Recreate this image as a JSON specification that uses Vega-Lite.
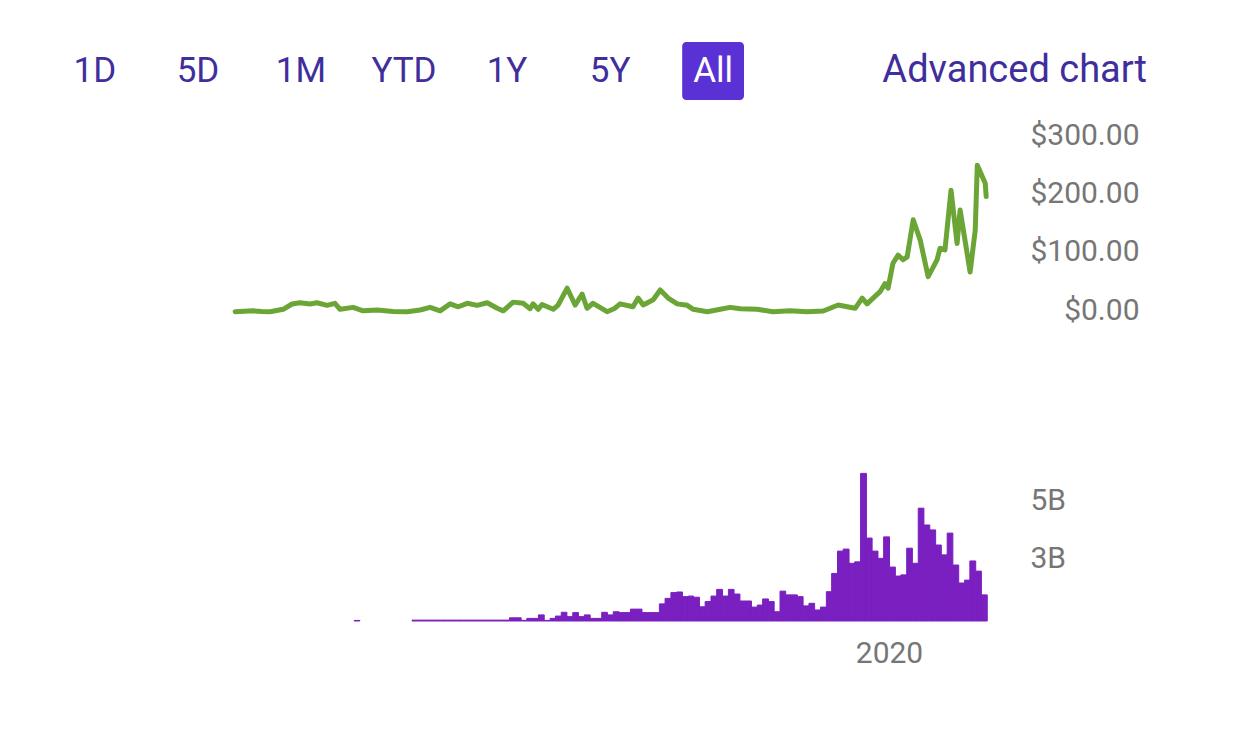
{
  "$schema": "https://vega.github.io/schema/vega-lite/v6.json",
  "background": "white",
  "padding": {"left": 64, "top": 42, "right": 0, "bottom": 0},
  "spacing": 25,
  "bounds": "flush",
  "config": {"view": {"stroke": null}, "font": "Roboto"},
  "datasets": {
    "buttons": [
      {"label": "1D", "selected": false},
      {"label": "5D", "selected": false},
      {"label": "1M", "selected": false},
      {"label": "YTD", "selected": false},
      {"label": "1Y", "selected": false},
      {"label": "5Y", "selected": false},
      {"label": "All", "selected": true}
    ],
    "link": [{"label": "Advanced chart"}],
    "price": [
      {"date": "2010-07-14", "price": 0.5}, {"date": "2010-09-01", "price": 1.5}, {"date": "2010-10-18", "price": 2}, {"date": "2010-12-01", "price": 0.8}, {"date": "2011-01-15", "price": 0.5},
      {"date": "2011-03-25", "price": 4.6}, {"date": "2011-05-11", "price": 13.8}, {"date": "2011-06-22", "price": 16},
      {"date": "2011-08-14", "price": 13.8}, {"date": "2011-09-20", "price": 16}, {"date": "2011-11-12", "price": 11.5},
      {"date": "2011-12-24", "price": 15}, {"date": "2012-01-20", "price": 4.6}, {"date": "2012-03-29", "price": 8},
      {"date": "2012-05-21", "price": 2}, {"date": "2012-08-03", "price": 3.4}, {"date": "2012-10-27", "price": 1},
      {"date": "2013-01-09", "price": 0.5}, {"date": "2013-03-18", "price": 3.4}, {"date": "2013-05-10", "price": 8},
      {"date": "2013-07-02", "price": 2}, {"date": "2013-08-24", "price": 14}, {"date": "2013-10-06", "price": 9},
      {"date": "2013-11-23", "price": 15}, {"date": "2014-01-14", "price": 11.5}, {"date": "2014-03-08", "price": 16},
      {"date": "2014-04-30", "price": 6.4}, {"date": "2014-06-01", "price": 2}, {"date": "2014-07-23", "price": 17},
      {"date": "2014-09-14", "price": 15}, {"date": "2014-10-21", "price": 5.7}, {"date": "2014-11-06", "price": 14},
      {"date": "2014-12-03", "price": 4.6}, {"date": "2014-12-23", "price": 13}, {"date": "2015-02-20", "price": 4.6},
      {"date": "2015-03-18", "price": 12}, {"date": "2015-05-05", "price": 41}, {"date": "2015-06-16", "price": 12},
      {"date": "2015-07-23", "price": 31}, {"date": "2015-08-18", "price": 6.4}, {"date": "2015-09-19", "price": 15},
      {"date": "2015-10-25", "price": 8}, {"date": "2015-12-02", "price": 0.5}, {"date": "2016-01-10", "price": 6}, {"date": "2016-02-09", "price": 14}, {"date": "2016-04-17", "price": 9},
      {"date": "2016-05-14", "price": 24}, {"date": "2016-06-10", "price": 12}, {"date": "2016-08-02", "price": 21},
      {"date": "2016-09-08", "price": 38}, {"date": "2016-10-20", "price": 24}, {"date": "2016-12-07", "price": 14},
      {"date": "2017-01-29", "price": 11.5}, {"date": "2017-03-02", "price": 4.6}, {"date": "2017-05-15", "price": 0.5},
      {"date": "2017-07-23", "price": 4.6}, {"date": "2017-09-13", "price": 8}, {"date": "2017-11-05", "price": 5.5},
      {"date": "2018-02-03", "price": 4.6}, {"date": "2018-04-28", "price": 0.5}, {"date": "2018-07-27", "price": 2},
      {"date": "2018-10-25", "price": 0.5}, {"date": "2019-01-18", "price": 1.7}, {"date": "2019-04-07", "price": 12},
      {"date": "2019-05-25", "price": 9}, {"date": "2019-07-06", "price": 6.4}, {"date": "2019-08-12", "price": 24},
      {"date": "2019-09-07", "price": 14}, {"date": "2019-10-09", "price": 24}, {"date": "2019-11-15", "price": 35},
      {"date": "2019-12-11", "price": 49}, {"date": "2019-12-27", "price": 41}, {"date": "2020-01-22", "price": 84},
      {"date": "2020-02-18", "price": 98}, {"date": "2020-03-15", "price": 90}, {"date": "2020-04-06", "price": 95},
      {"date": "2020-05-08", "price": 159}, {"date": "2020-06-14", "price": 124}, {"date": "2020-07-26", "price": 61},
      {"date": "2020-09-11", "price": 90}, {"date": "2020-09-27", "price": 110}, {"date": "2020-10-23", "price": 107},
      {"date": "2020-11-24", "price": 210}, {"date": "2020-12-26", "price": 118}, {"date": "2021-01-11", "price": 176},
      {"date": "2021-03-05", "price": 69}, {"date": "2021-04-01", "price": 141}, {"date": "2021-04-12", "price": 253},
      {"date": "2021-05-24", "price": 222}, {"date": "2021-05-29", "price": 199}
    ],
    "volume": [
      {"date": "2012-04-01", "vol": 850000000},
      {"date": "2013-02-01", "vol": 860000000}, {"date": "2013-03-01", "vol": 860000000}, {"date": "2013-04-01", "vol": 860000000},
      {"date": "2013-05-01", "vol": 860000000}, {"date": "2013-06-01", "vol": 860000000}, {"date": "2013-07-01", "vol": 860000000},
      {"date": "2013-08-01", "vol": 860000000}, {"date": "2013-09-01", "vol": 860000000}, {"date": "2013-10-01", "vol": 860000000},
      {"date": "2013-11-01", "vol": 860000000}, {"date": "2013-12-01", "vol": 860000000}, {"date": "2014-01-01", "vol": 860000000},
      {"date": "2014-02-01", "vol": 860000000}, {"date": "2014-03-01", "vol": 860000000}, {"date": "2014-04-01", "vol": 860000000},
      {"date": "2014-05-01", "vol": 860000000}, {"date": "2014-06-01", "vol": 860000000},
      {"date": "2014-07-01", "vol": 940000000}, {"date": "2014-08-01", "vol": 940000000}, {"date": "2014-09-01", "vol": 850000000},
      {"date": "2014-10-01", "vol": 920000000}, {"date": "2014-11-01", "vol": 920000000}, {"date": "2014-12-01", "vol": 1040000000},
      {"date": "2015-01-01", "vol": 850000000}, {"date": "2015-02-01", "vol": 920000000}, {"date": "2015-03-01", "vol": 1000000000},
      {"date": "2015-04-01", "vol": 1130000000}, {"date": "2015-05-01", "vol": 980000000}, {"date": "2015-06-01", "vol": 1120000000},
      {"date": "2015-07-01", "vol": 980000000}, {"date": "2015-08-01", "vol": 1040000000}, {"date": "2015-09-01", "vol": 920000000},
      {"date": "2015-10-01", "vol": 920000000}, {"date": "2015-11-01", "vol": 1130000000}, {"date": "2015-12-01", "vol": 1040000000},
      {"date": "2016-01-01", "vol": 1150000000}, {"date": "2016-02-01", "vol": 1120000000}, {"date": "2016-03-01", "vol": 1120000000},
      {"date": "2016-04-01", "vol": 1240000000}, {"date": "2016-05-01", "vol": 1240000000}, {"date": "2016-06-01", "vol": 1120000000},
      {"date": "2016-07-01", "vol": 1120000000}, {"date": "2016-08-01", "vol": 1120000000}, {"date": "2016-09-01", "vol": 1420000000},
      {"date": "2016-10-01", "vol": 1610000000}, {"date": "2016-11-01", "vol": 1810000000}, {"date": "2016-12-01", "vol": 1830000000},
      {"date": "2017-01-01", "vol": 1670000000}, {"date": "2017-02-01", "vol": 1690000000}, {"date": "2017-03-01", "vol": 1650000000},
      {"date": "2017-04-01", "vol": 1320000000}, {"date": "2017-05-01", "vol": 1500000000}, {"date": "2017-06-01", "vol": 1690000000},
      {"date": "2017-07-01", "vol": 1920000000}, {"date": "2017-08-01", "vol": 1690000000}, {"date": "2017-09-01", "vol": 1920000000},
      {"date": "2017-10-01", "vol": 1760000000}, {"date": "2017-11-01", "vol": 1520000000}, {"date": "2017-12-01", "vol": 1520000000},
      {"date": "2018-01-01", "vol": 1310000000}, {"date": "2018-02-01", "vol": 1380000000}, {"date": "2018-03-01", "vol": 1590000000},
      {"date": "2018-04-01", "vol": 1500000000}, {"date": "2018-05-01", "vol": 1150000000}, {"date": "2018-06-01", "vol": 1860000000},
      {"date": "2018-07-01", "vol": 1730000000}, {"date": "2018-08-01", "vol": 1730000000}, {"date": "2018-09-01", "vol": 1670000000},
      {"date": "2018-10-01", "vol": 1350000000}, {"date": "2018-11-01", "vol": 1440000000}, {"date": "2018-12-01", "vol": 1210000000},
      {"date": "2019-01-01", "vol": 1310000000}, {"date": "2019-02-01", "vol": 1840000000}, {"date": "2019-03-01", "vol": 2470000000},
      {"date": "2019-04-01", "vol": 3240000000}, {"date": "2019-05-01", "vol": 3310000000}, {"date": "2019-06-01", "vol": 2820000000},
      {"date": "2019-07-01", "vol": 2870000000}, {"date": "2019-08-01", "vol": 5920000000}, {"date": "2019-09-01", "vol": 3690000000},
      {"date": "2019-10-01", "vol": 3240000000}, {"date": "2019-11-01", "vol": 2990000000}, {"date": "2019-12-01", "vol": 3730000000},
      {"date": "2020-01-01", "vol": 2690000000}, {"date": "2020-02-01", "vol": 2380000000}, {"date": "2020-03-01", "vol": 2420000000},
      {"date": "2020-04-01", "vol": 3340000000}, {"date": "2020-05-01", "vol": 2820000000}, {"date": "2020-06-01", "vol": 4720000000},
      {"date": "2020-07-01", "vol": 4140000000}, {"date": "2020-08-01", "vol": 3970000000}, {"date": "2020-09-01", "vol": 3450000000},
      {"date": "2020-10-01", "vol": 3110000000}, {"date": "2020-11-01", "vol": 3860000000}, {"date": "2020-12-01", "vol": 2760000000},
      {"date": "2021-01-01", "vol": 2140000000}, {"date": "2021-02-01", "vol": 2240000000}, {"date": "2021-03-01", "vol": 2900000000},
      {"date": "2021-04-01", "vol": 2550000000}, {"date": "2021-05-01", "vol": 1730000000}
    ]
  },
  "vconcat": [
    {
      "width": 1083,
      "height": 58,
      "resolve": {"scale": {"x": "independent"}},
      "layer": [
        {
          "data": {"name": "buttons"},
          "transform": [{"filter": "datum.selected"}],
          "mark": {"type": "bar", "color": "#5a31d4", "cornerRadius": 4},
          "encoding": {
            "x": {"field": "label", "type": "nominal", "sort": null,
                  "scale": {"type": "band", "domain": ["1D", "5D", "1M", "YTD", "1Y", "5Y", "All"], "range": [0, 680], "paddingInner": 0.4, "paddingOuter": 0},
                  "axis": null}
          }
        },
        {
          "data": {"name": "buttons"},
          "mark": {"type": "text", "fontSize": 35, "font": "Roboto", "baseline": "middle", "align": "center"},
          "encoding": {
            "x": {"field": "label", "type": "nominal", "sort": null,
                  "scale": {"type": "band", "domain": ["1D", "5D", "1M", "YTD", "1Y", "5Y", "All"], "range": [0, 680], "paddingInner": 0.4, "paddingOuter": 0},
                  "axis": null},
            "text": {"field": "label"},
            "color": {"condition": {"test": "datum.selected", "value": "#ffffff"}, "value": "#3f2e9c"}
          }
        },
        {
          "data": {"name": "link"},
          "mark": {"type": "text", "fontSize": 38, "font": "Roboto", "baseline": "middle", "align": "right", "color": "#3f2e9c"},
          "encoding": {
            "x": {"field": "label", "type": "nominal", "scale": {"type": "point", "padding": 0, "align": 1}, "axis": null},
            "text": {"field": "label"}
          }
        }
      ]
    },
    {
      "width": 936,
      "height": 197,
      "data": {"name": "price"},
      "mark": {"type": "line", "color": "#6aa535", "strokeWidth": 5, "strokeJoin": "round", "strokeCap": "round"},
      "encoding": {
        "x": {"field": "date", "type": "temporal",
              "scale": {"type": "utc", "domain": [{"year": 2008, "month": 1, "date": 21, "utc": true}, {"year": 2021, "month": 8, "date": 10, "utc": true}]},
              "axis": null},
        "y": {"field": "price", "type": "quantitative",
              "scale": {"domain": [-17.24, 322.41], "nice": false, "zero": false},
              "axis": {"orient": "right", "values": [0, 100, 200, 300], "format": "$,.2f", "labelAlign": "right", "labelBaseline": "middle",
                       "labelPadding": 139, "labelOffset": -2, "labelFontSize": 30, "labelFont": "Roboto", "labelColor": "#767676",
                       "domain": false, "ticks": false, "grid": false, "title": null}}
      }
    },
    {
      "width": 936,
      "height": 274,
      "data": {"name": "volume"},
      "mark": {"type": "bar", "color": "#7a1fc0", "stroke": "#7a1fc0", "strokeWidth": 1, "binSpacing": 0},
      "encoding": {
        "x": {"field": "date", "type": "temporal", "timeUnit": "utcyearmonth",
              "scale": {"type": "utc", "domain": [{"year": 2008, "month": 1, "date": 21, "utc": true}, {"year": 2021, "month": 8, "date": 10, "utc": true}]},
              "axis": {"values": [{"year": 2020, "month": 1, "date": 1, "utc": true}], "format": "%Y", "labelFontSize": 30, "labelFont": "Roboto",
                       "labelColor": "#767676", "labelBaseline": "middle", "labelPadding": 32, "domain": false, "ticks": false, "grid": false, "title": null}},
        "y": {"field": "vol", "type": "quantitative",
              "scale": {"domain": [830000000, 10278000000], "nice": false, "zero": false},
              "axis": {"orient": "right", "values": [3000000000, 5000000000], "labelExpr": "format(datum.value / 1e9, 'd') + 'B'",
                       "labelAlign": "left", "labelBaseline": "middle", "labelPadding": 30, "labelFontSize": 30, "labelFont": "Roboto",
                       "labelColor": "#767676", "domain": false, "ticks": false, "grid": false, "title": null}},
        "y2": {"datum": 830000000}
      }
    }
  ]
}
